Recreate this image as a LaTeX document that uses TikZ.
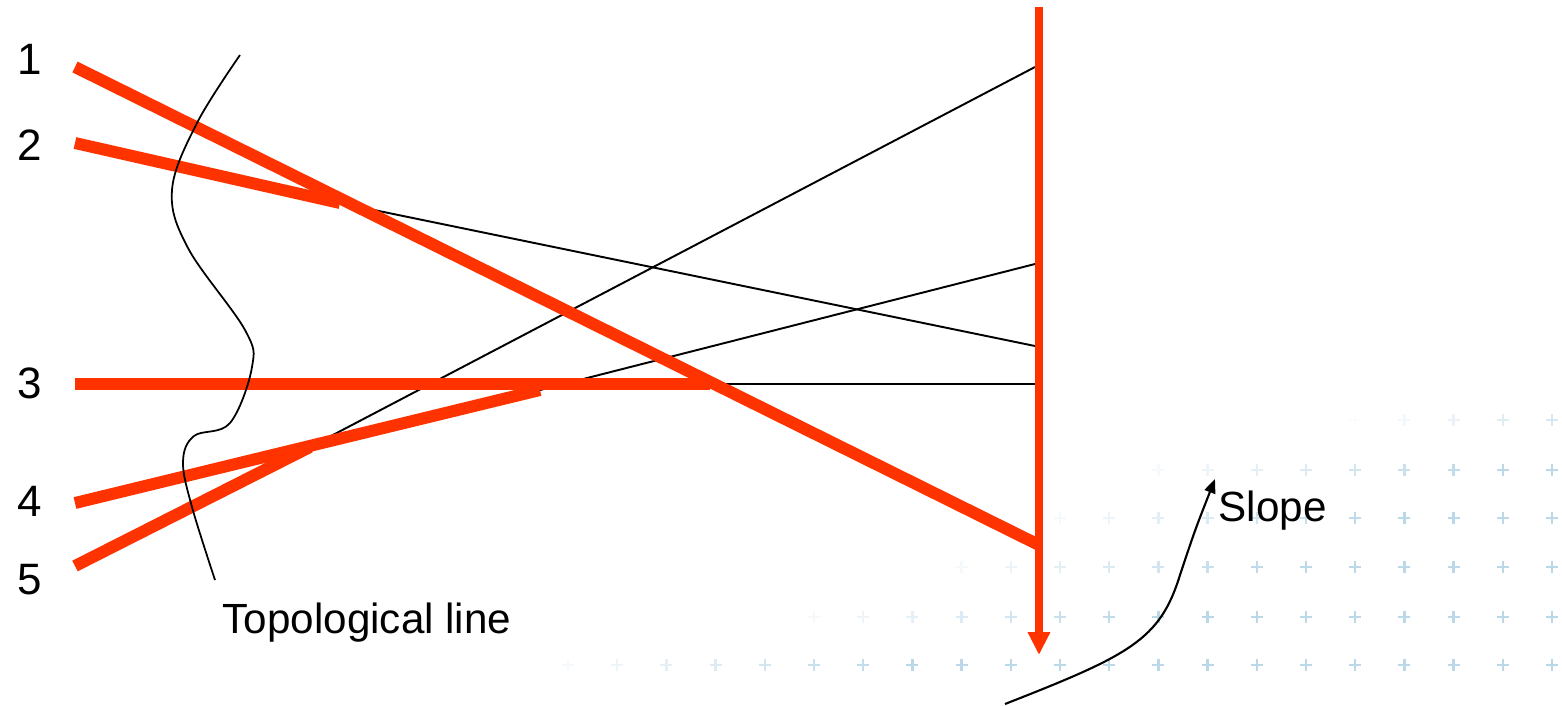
\documentclass[tikz,border=0pt]{standalone}
\usepackage{fontspec}
\setmainfont{Liberation Sans}
\usepackage{tikz}
\usetikzlibrary{calc,arrows.meta}
\definecolor{myred}{RGB}{255,51,0}
\definecolor{mycross}{RGB}{180,212,230}

\tikzset{
  redline/.style={line width=3.4pt, myred},
  thinline/.style={line width=0.55pt, black},
  numlabel/.style={font=\fontsize{12.5}{14}\selectfont, inner sep=0pt},
  textlabel/.style={font=\fontsize{12}{14}\selectfont, inner sep=0pt}
}

\begin{document}
\begin{tikzpicture}[x=0.01cm, y=-0.01cm]
  \useasboundingbox (0,0) rectangle (1562,705);

  % faint background crosses
  \foreach \yy/\xs in {420/1330, 470/1110, 518/1000, 567/900, 617/760, 665/520} {
    \foreach \c in {0,...,20} {
      \pgfmathsetmacro\xx{1552-49.2*\c}
      \pgfmathsetmacro\op{min(0.9,max(0,(\xx-\xs)/420))}
      \draw[mycross, line width=0.7pt, opacity=\op]
        (\xx-6,\yy) -- (\xx+6,\yy) (\xx,\yy-6) -- (\xx,\yy+6);
    }
  }

  % axis
  \coordinate (top) at (1039,7);
  \coordinate (bottom) at (1039,655);

  % ends of the lines
  \coordinate (a1) at (75,67);   \coordinate (b1) at (1039,545);
  \coordinate (a2) at (75,143);  \coordinate (m2) at (340,203);  \coordinate (b2) at (1035,346);
  \coordinate (a3) at (75,384);  \coordinate (m3) at (710,384);  \coordinate (b3) at (1035,384);
  \coordinate (a4) at (75,503);  \coordinate (m4) at (540,390);  \coordinate (b4) at (1035,264);
  \coordinate (a5) at (75,566);  \coordinate (m5) at (310,447);  \coordinate (b5) at (1035,67);

  % thin continuations
  \draw[thinline] (m2) -- (b2);
  \draw[thinline] (m3) -- (b3);
  \draw[thinline] (m4) -- (b4);
  \draw[thinline] (m5) -- (b5);

  % thick red parts
  \draw[redline] (a2) -- (m2);
  \draw[redline] (a3) -- (m3);
  \draw[redline] (a4) -- (m4);
  \draw[redline] (a5) -- (m5);
  \draw[redline] (a1) -- (b1);
  \draw[line width=2.3pt, myred, -{Triangle[length=6.5pt,width=6pt]}] (top) -- (bottom);

  % labels
  \node[numlabel] (n1) at (30,59) {1};
  \node[numlabel] (n2) at (30,145) {2};
  \node[numlabel] (n3) at (30,383) {3};
  \node[numlabel] (n4) at (30,501) {4};
  \node[numlabel] (n5) at (30,580) {5};

  % topological line
  \draw[line width=0.5pt] plot[smooth, tension=0.6] coordinates {
    (240,55) (197,123) (172,190) (188,248) (245,330) (252,367)
    (230,423) (194,436) (183,462) (192,507) (215,580)};
  \node[textlabel] (topo) at (367,623) {Topological line};

  % slope
  \coordinate (s0) at (1005,704);
  \coordinate (s1) at (1215,479);
  \draw[line width=0.6pt, -{Triangle[length=4pt,width=3.2pt]}]
    (s0) .. controls (1130,655) and (1160,640) .. (1180,575)
    .. controls (1195,530) .. (s1);
  \node[textlabel, anchor=west] (slope) at (1218,511) {Slope};
\end{tikzpicture}
\end{document}
